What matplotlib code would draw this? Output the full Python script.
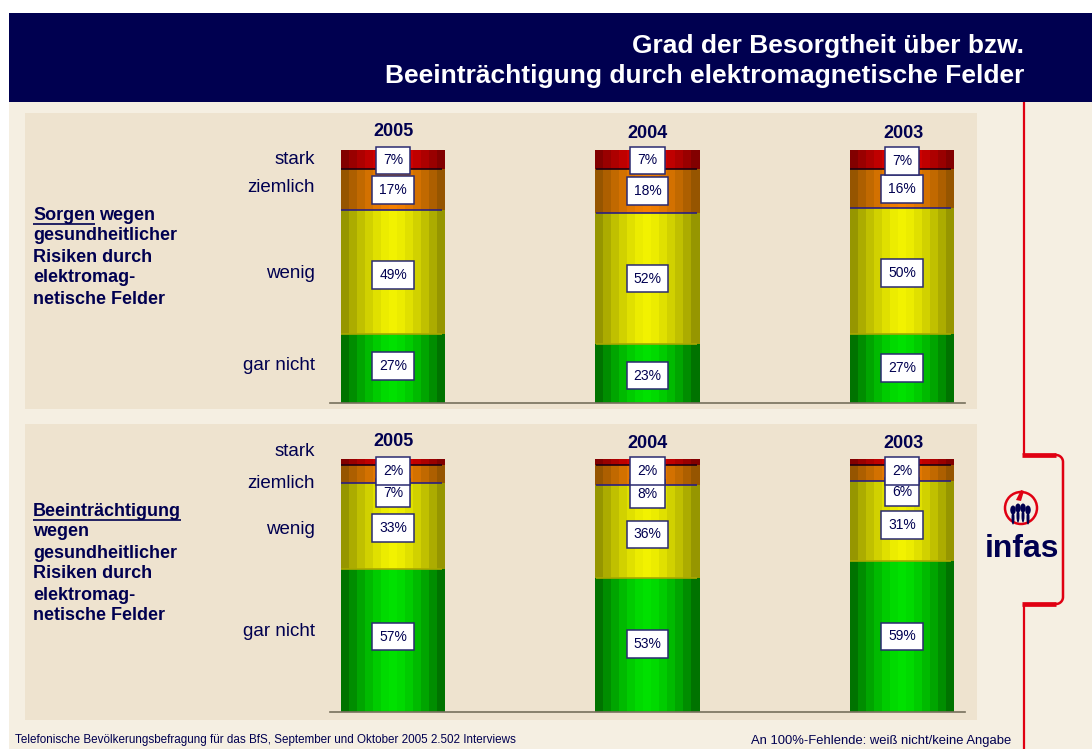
import numpy as np
import matplotlib
matplotlib.use('Agg')
import matplotlib.pyplot as plt
from matplotlib.patches import Rectangle, Circle, Ellipse, FancyBboxPatch, Polygon

plt.rcParams['font.family'] = ['Liberation Sans', 'DejaVu Sans']

years = ['2005', '2004', '2003']
levels = ['gar nicht', 'wenig', 'ziemlich', 'stark']

# bar heights in percent
top_garnicht = [27.2, 23.3, 27.2]
top_wenig = [49.0, 51.8, 49.8]
top_ziemlich = [16.3, 17.4, 15.4]
top_stark = [7.5, 7.5, 7.6]

bot_garnicht = [56.5, 53.0, 59.7]
bot_wenig = [34.0, 36.7, 31.6]
bot_ziemlich = [7.1, 7.9, 6.3]
bot_stark = [2.4, 2.4, 2.4]

# printed labels
top_labels = [[27, 23, 27], [49, 52, 50], [17, 18, 16], [7, 7, 7]]
bot_labels = [[57, 53, 59], [33, 36, 31], [7, 8, 6], [2, 2, 2]]

NAVY = '#000050'
PAGE = '#F5EFE2'
PANEL = '#EEE3CF'
RED = '#E00012'

# centre and edge colours of the bands of each segment
seg_colors = [((0, 225, 0), (0, 115, 0)),
              ((242, 242, 0), (150, 150, 0)),
              ((245, 128, 0), (150, 85, 0)),
              ((225, 0, 0), (130, 0, 0))]
line_colors = ['#A8A800', '#2A1F80', '#200010']
N_BANDS = 13
BAR_W = 104 / 254.5
PX = 72 / 100

fig = plt.figure(figsize=(10.92, 7.49), dpi=100, facecolor='white')

# whole page in pixel coordinates
bg = fig.add_axes([0, 0, 1, 1])
bg.set_xlim(0, 1092)
bg.set_ylim(749, 0)
bg.axis('off')

bg.add_patch(Rectangle((9, 13), 1083, 736, fc=PAGE, ec='none'))
bg.add_patch(Rectangle((9, 13), 1083, 89, fc=NAVY, ec='none'))
bg.add_patch(Rectangle((25, 113), 952, 296, fc=PANEL, ec='none'))
bg.add_patch(Rectangle((25, 424), 952, 296, fc=PANEL, ec='none'))

bg.text(1024, 46, 'Grad der Besorgtheit über bzw.', color='white', fontsize=19,
        fontweight='bold', ha='right', va='center')
bg.text(1024, 76, 'Beeinträchtigung durch elektromagnetische Felder', color='white',
        fontsize=19, fontweight='bold', ha='right', va='center')


def draw_panel(y0_px, heights, labels, offsets):
    # y0_px = top of the 100% bar, 253 px high
    ax = fig.add_axes([330 / 1092, 1 - (y0_px + 253) / 749, 635 / 1092, 253 / 749])
    ax.patch.set_alpha(0)
    ax.set_xlim((330 - 393) / 254.5, (965 - 393) / 254.5)
    ax.set_ylim(0, 100)
    for s in ['top', 'left', 'right']:
        ax.spines[s].set_visible(False)
    ax.spines['bottom'].set_color('#77705C')
    ax.spines['bottom'].set_linewidth(1.2)
    ax.set_xticks([])
    ax.set_yticks([])

    x = np.arange(len(years))
    bottom = np.zeros(len(years))
    band_w = BAR_W / N_BANDS
    for k, h in enumerate(heights):
        h = np.array(h)
        c0, c1 = seg_colors[k]
        for b in range(N_BANDS):
            t = abs(b - (N_BANDS - 1) / 2) / ((N_BANDS - 1) / 2)
            col = [(c0[j] + (c1[j] - c0[j]) * t ** 1.5) / 255 for j in range(3)]
            ax.bar(x - BAR_W / 2 + (b + 0.5) * band_w, h, band_w * 1.02, bottom=bottom,
                   color=col, linewidth=0, zorder=2)
        top = bottom + h
        if k < 3:
            ax.hlines(top, x - BAR_W / 2, x + BAR_W / 2 - 0.01, color=line_colors[k],
                      lw=1.2, zorder=3)
        for i in range(len(x)):
            ax.annotate('%d%%' % labels[k][i], xy=(x[i], bottom[i] + h[i] / 2),
                        xytext=(0, -offsets[k][i] * PX), textcoords='offset points',
                        ha='center', va='center', fontsize=10, color=NAVY, zorder=5 + k,
                        bbox=dict(boxstyle='square,pad=0.5', fc='white', ec='#2A2A70', lw=1.1))
        bottom = top
    return ax


# label shift below segment centre, pixels
top_off = [[-3, 2, -1], [3, 0, 2], [0, 0, 0], [1, 1, 1]]
bot_off = [[-4, -1, 0], [2, 3, 4], [19, 19, 19], [9, 9, 9]]

draw_panel(150, [top_garnicht, top_wenig, top_ziemlich, top_stark], top_labels, top_off)
draw_panel(459, [bot_garnicht, bot_wenig, bot_ziemlich, bot_stark], bot_labels, bot_off)

# years
for xp, yt, yb, yr in zip([393, 648, 903], [131, 134, 133], [441, 444, 444], years):
    bg.text(xp, yt, yr, color=NAVY, fontsize=13, fontweight='bold', ha='center', va='center')
    bg.text(xp, yb, yr, color=NAVY, fontsize=13, fontweight='bold', ha='center', va='center')

# level names
for lv, yt, yb in zip(levels[::-1], [160, 188, 273, 366], [452, 484, 530, 631]):
    bg.text(315, yt, lv, color=NAVY, fontsize=13.5, ha='right', va='center')
    bg.text(315, yb, lv, color=NAVY, fontsize=13.5, ha='right', va='center')

# left captions
fig.canvas.draw()
rend = fig.canvas.get_renderer()


def underlined(x, y, word):
    t = bg.text(x, y, word, color=NAVY, fontsize=13, fontweight='bold', va='center')
    w = t.get_window_extent(rend).width
    bg.plot([x, x + w], [y + 9, y + 9], color=NAVY, lw=1.2, solid_capstyle='butt')
    return x + w


xe = underlined(33, 215, 'Sorgen')
bg.text(xe + 4, 215, 'wegen', color=NAVY, fontsize=13, fontweight='bold', va='center')
for y, s in zip([236, 257, 278, 299],
                ['gesundheitlicher', 'Risiken durch', 'elektromag-', 'netische Felder']):
    bg.text(33, y, s, color=NAVY, fontsize=13, fontweight='bold', va='center')

underlined(33, 511, 'Beeinträchtigung')
for y, s in zip([532, 553, 574, 595, 616],
                ['wegen', 'gesundheitlicher', 'Risiken durch', 'elektromag-', 'netische Felder']):
    bg.text(33, y, s, color=NAVY, fontsize=13, fontweight='bold', va='center')

# footer
bg.text(15, 740, 'Telefonische Bevölkerungsbefragung für das BfS, September und Oktober 2005 2.502 Interviews',
        color=NAVY, fontsize=8.4, va='center')
bg.text(1011, 741, 'An 100%-Fehlende: weiß nicht/keine Angabe', color=NAVY, fontsize=9.4,
        ha='right', va='center')

# red bracket
bg.plot([1024, 1024], [102, 455], color=RED, lw=1.6, solid_capstyle='butt')
bg.plot([1024, 1024], [604, 749], color=RED, lw=1.6, solid_capstyle='butt')
bg.plot([1022, 1056], [455, 455], color=RED, lw=3.4, solid_capstyle='butt')
bg.plot([1022, 1056], [604, 604], color=RED, lw=3.4, solid_capstyle='butt')
t = np.linspace(0, np.pi / 2, 20)
bx = np.r_[1056 + 7 * np.sin(t), 1063, 1056 + 7 * np.cos(t)]
by = np.r_[462 - 7 * np.cos(t), 597, 597 + 7 * np.sin(t)]
bg.plot(bx, by, color=RED, lw=1.8)

# logo
bg.add_patch(Circle((1021, 508), 16, fc='none', ec=RED, lw=1.8))
bg.add_patch(Polygon([[1016, 500], [1021, 490], [1024, 491], [1021, 501]], fc=RED, ec='none'))
for xp, ys in zip([1013, 1018, 1023, 1028], [510, 508, 508, 510]):
    bg.add_patch(Ellipse((xp, ys), 5.5, 9, fc=NAVY, ec='none'))
    bg.add_patch(Ellipse((xp, ys + 8), 3, 13, fc=NAVY, ec='none'))
logo = bg.text(1022, 549, 'infas', color=NAVY, fontsize=23, fontweight='bold', ha='center',
               va='center', family=['Liberation Sans Narrow', 'Liberation Sans'])

fig.savefig('out.png', dpi=100, facecolor='white')
